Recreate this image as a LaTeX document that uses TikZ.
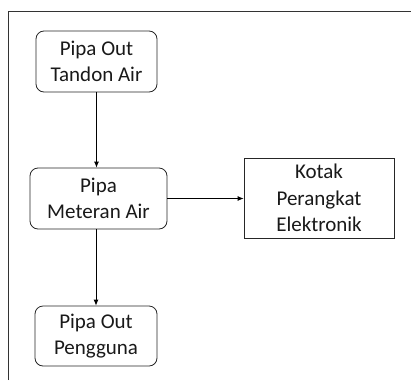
\documentclass[tikz,border=0pt]{standalone}
\usepackage{fontspec}
\setmainfont{Carlito}
\usetikzlibrary{arrows.meta}
\begin{document}
\begin{tikzpicture}[x=1pt,y=-1pt,
  box/.style={draw=black!85, line width=0.8pt, align=center, text=black!90,
    font=\fontsize{21}{26.5}\selectfont, inner sep=0pt},
  rbox/.style={box, rounded corners=8pt},
  arr/.style={-{Latex[length=6pt,width=5pt]}, line width=0.8pt}]
\useasboundingbox (0,0) rectangle (411,380);
\draw[line width=1.1pt, black!80] (8.3,380) -- (8.3,11.6) -- (411,11.6);
\node[rbox, minimum width=121pt, minimum height=61pt] (b1) at (96.5,61.5) {Pipa Out\\Tandon Air};
\node[rbox, minimum width=137pt, minimum height=61pt] (b2) at (98.5,198.5) {Pipa\\Meteran Air};
\node[rbox, minimum width=122pt, minimum height=60pt] (b3) at (96,336) {Pipa Out\\Pengguna};
\node[box, minimum width=150pt, minimum height=80pt] (b4) at (319,198) {Kotak\\Perangkat\\Elektronik};
\draw[arr] (b1.south) -- (b1.south |- b2.north);
\draw[arr] (b3.north |- b2.south) -- (b3.north);
\draw[arr] (b2.east) -- (b2.east -| b4.west);
\end{tikzpicture}
\end{document}
